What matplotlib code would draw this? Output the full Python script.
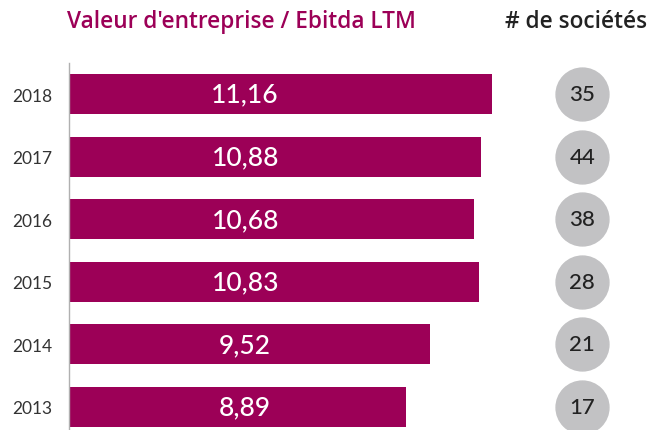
import matplotlib.pyplot as plt

# data
annees = ["2013", "2014", "2015", "2016", "2017", "2018"]
multiples = [8.89, 9.52, 10.83, 10.68, 10.88, 11.16]
nb_societes = [17, 21, 28, 38, 44, 35]

plt.rcParams["font.family"] = ["Lato", "DejaVu Sans"]

violet = "#9c0057"
gris = "#c2c2c4"

fig = plt.figure(figsize=(6.52, 4.31), dpi=100)
ax = fig.add_axes([69 / 652, 0, 1 - 69 / 652, 1 - 64 / 431])

pos = range(len(annees))
ax.barh(pos, multiples, height=0.64, color=violet, zorder=2)

for i, v in enumerate(multiples):
    ax.text(4.65, i, f"{v:.2f}".replace(".", ","), color="white",
            fontsize=19, fontweight="medium", ha="center", va="center", zorder=3)

ax.scatter([13.54] * len(annees), list(pos), s=1450, color=gris, zorder=2,
           clip_on=False)
for i, n in enumerate(nb_societes):
    ax.text(13.54, i, str(n), color="#222222", fontsize=16, fontweight="medium",
            ha="center", va="center", zorder=3)

ax.set_xlim(0, 583 / 37.9)
ax.set_ylim(-0.37, 5.5)
ax.set_yticks(list(pos))
ax.set_yticklabels(annees, fontsize=12.5, color="#333333")
ax.tick_params(axis="y", length=0, pad=12)
ax.set_xticks([])
for s in ["top", "right", "bottom"]:
    ax.spines[s].set_visible(False)
ax.spines["left"].set_color("#b0b0b0")
ax.spines["left"].set_linewidth(1)

fig.text(67 / 652, 1 - 22 / 431, "Valeur d'entreprise / Ebitda LTM",
         color=violet, fontsize=16.3, fontweight="semibold", va="center",
         family=["Open Sans", "DejaVu Sans"])
fig.text(505 / 652, 1 - 22 / 431, "# de sociétés",
         color="#222222", fontsize=16.3, fontweight="semibold", va="center",
         family=["Open Sans", "DejaVu Sans"])

fig.savefig("out.png", dpi=100)
